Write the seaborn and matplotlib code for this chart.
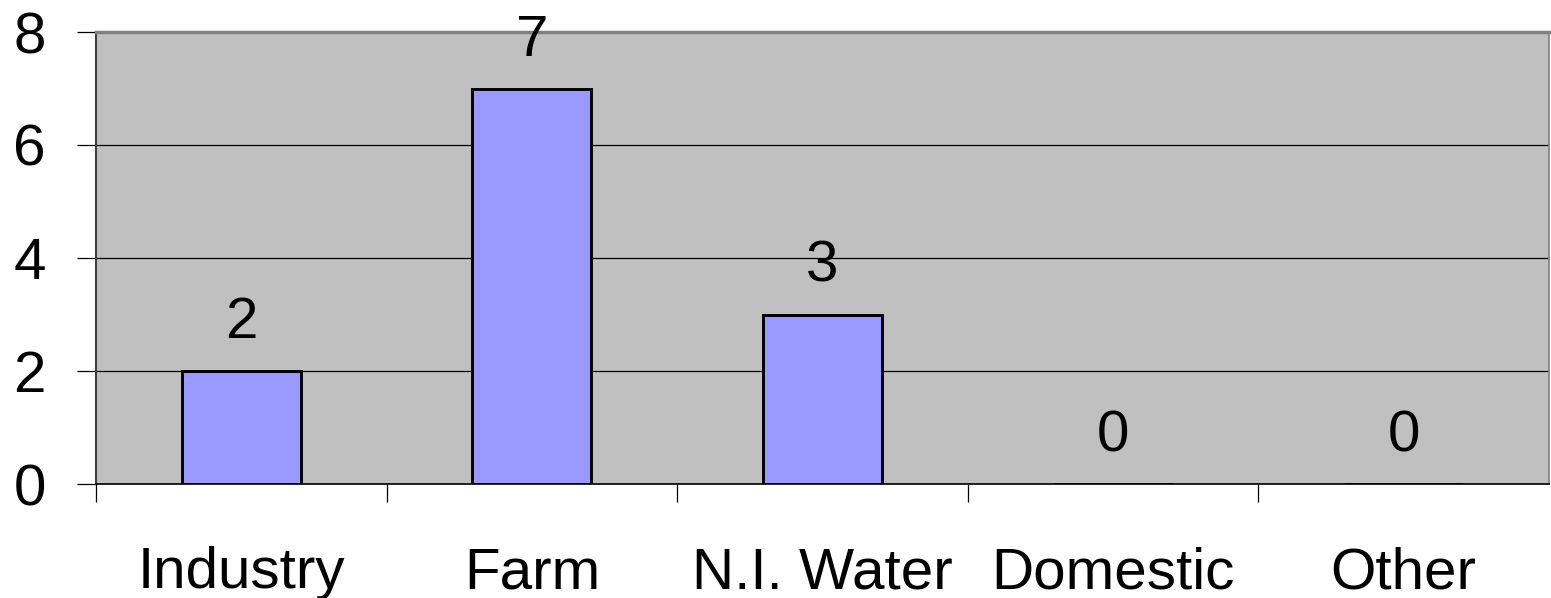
import matplotlib
matplotlib.use("Agg")
import matplotlib.pyplot as plt
import seaborn as sns
import pandas as pd

categories = ["Industry", "Farm", "N.I. Water", "Domestic", "Other"]
values = [2, 7, 3, 0, 0]
y_ticks = [0, 2, 4, 6, 8]

sns.set_theme(style="white")
plt.rcParams['font.family'] = ['Liberation Sans', 'DejaVu Sans']
plt.rcParams['text.color'] = 'black'

df = pd.DataFrame({"cat": categories, "val": values})

fig = plt.figure(figsize=(15.51, 5.98), dpi=100)
ax = fig.add_axes([96/1551, 1-484/598, (1549-96)/1551, (484-32)/598])
ax.set_facecolor("#C0C0C0")

sns.barplot(data=df, x="cat", y="val", ax=ax, color="#9999FF", saturation=1,
            width=0.41, edgecolor="black", linewidth=2.1, zorder=3)

ax.set_xlim(-0.5, 4.5)
ax.set_ylim(0, 8)
ax.set_yticks(y_ticks)
ax.set_yticklabels([str(t) for t in y_ticks])
ax.yaxis.grid(True, color="black", linewidth=0.9, zorder=1)
ax.set_axisbelow(True)
ax.set_xlabel("")
ax.set_ylabel("")

ax.tick_params(axis="y", which="major", direction="out", length=14, width=0.9,
               color="black", pad=22, labelsize=42, left=True, labelcolor="black")
ax.tick_params(axis="x", which="major", length=0, pad=45, labelsize=42, labelcolor="black")
ax.set_xticks([-0.5, 0.5, 1.5, 2.5, 3.5], minor=True)
ax.tick_params(axis="x", which="minor", direction="out", length=13, width=0.9,
               color="black", bottom=True)

for i, v in enumerate(values):
    ax.annotate(str(v), xy=(i, v), xytext=(0, 15), textcoords="offset points",
                ha="center", va="bottom", fontsize=42, color="black")

ax.spines["top"].set_color("#808080")
ax.spines["top"].set_linewidth(2.5)
ax.spines["right"].set_color("#808080")
ax.spines["right"].set_linewidth(1.2)
ax.spines["left"].set_color("#404040")
ax.spines["left"].set_linewidth(1.5)
ax.spines["bottom"].set_color("black")
ax.spines["bottom"].set_linewidth(1.2)
for s in ax.spines.values():
    s.set_visible(True)

fig.savefig("out.png", dpi=100)
